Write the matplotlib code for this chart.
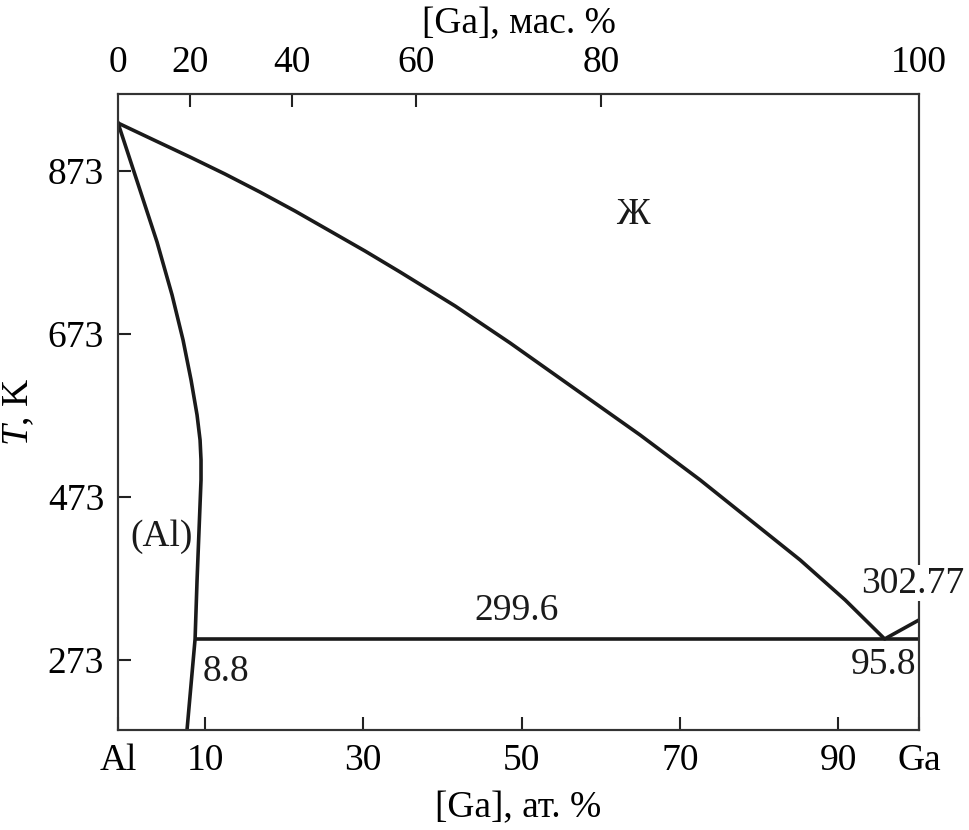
import matplotlib.pyplot as plt

plt.rcParams['font.family'] = ['Liberation Serif', 'DejaVu Serif']
plt.rcParams['mathtext.fontset'] = 'custom'
plt.rcParams['mathtext.it'] = 'Liberation Serif:italic'
plt.rcParams['mathtext.rm'] = 'Liberation Serif'

# состав, ат. % Ga  /  температура, K
liq_x = [-1.0, 3.55, 8.10, 12.53, 16.95, 21.38, 25.80, 30.23, 34.65, 41.61, 48.56,
         56.78, 64.99, 72.58, 78.90, 85.22, 90.91, 95.9, 100.24]
liq_T = [931.9, 911.0, 890.2, 869.3, 847.2, 823.9, 799.4, 774.8, 749.1, 707.4, 662.0,
         605.5, 549.1, 493.9, 444.8, 395.7, 346.6, 298.8, 322.1]

solv_x = [-1.0, 1.53, 3.93, 5.83, 7.22, 8.23, 8.99, 9.37, 9.49, 9.49, 9.24, 8.99, 8.74, 7.72]
solv_T = [931.9, 857.0, 785.9, 720.9, 665.6, 616.6, 573.6, 542.9, 518.4, 493.9, 432.5,
          371.2, 298.8, 187.1]

eut_x = [8.9, 100.24]
eut_T = [298.8, 298.8]

x_lim = (-1.0, 100.24)
T_lim = (187.1, 967.5)

bottom_ticks = [x_lim[0], 10, 30, 50, 70, 90, x_lim[1]]
bottom_labels = ['Al', '10', '30', '50', '70', '90', 'Ga']
top_ticks = [x_lim[0], 8.10, 21.0, 36.68, 60.06, x_lim[1]]
top_labels = ['0', '20', '40', '60', '80', '100']
T_ticks = [273, 473, 673, 873]

notes = [
    ('Ж', 64.1, 819),
    ('(Al)', 4.44, 424),
    ('8.8', 12.65, 258),
    ('299.6', 49.4, 334),
    ('302.77', 99.4, 367),
    ('95.8', 95.7, 267),
]

fs = 27
ink = '#1a1a1a'
fig = plt.figure(figsize=(9.69, 8.30), dpi=100)
ax = fig.add_axes([0.1218, 0.1205, 0.8266, 0.7662])

ax.plot(liq_x, liq_T, color=ink, lw=2.6, solid_joinstyle='round')
ax.plot(solv_x, solv_T, color=ink, lw=2.6, solid_joinstyle='round')
ax.plot(eut_x, eut_T, color=ink, lw=2.6)

ax.set_xlim(*x_lim)
ax.set_ylim(*T_lim)
ax.set_xticks(bottom_ticks)
ax.set_xticklabels(bottom_labels)
ax.set_yticks(T_ticks)
ax.tick_params(direction='in', length=9.5, width=1.5, labelsize=fs, pad=10, color='#222222')
for t in ax.xaxis.get_major_ticks()[::len(bottom_ticks) - 1]:
    t.tick1line.set_visible(False)

ax2 = ax.twiny()
ax2.set_xlim(*x_lim)
ax2.set_xticks(top_ticks)
ax2.set_xticklabels(top_labels)
ax2.tick_params(direction='in', length=9.5, width=1.5, labelsize=fs, pad=10, color='#222222')
for t in ax2.xaxis.get_major_ticks()[::len(top_ticks) - 1]:
    t.tick2line.set_visible(False)

for a in (ax, ax2):
    for s in a.spines.values():
        s.set_linewidth(1.5)
        s.set_color('#333333')

ax.set_xlabel('[Ga], ат. %', fontsize=fs, labelpad=9)
ax2.set_xlabel('[Ga], мас. %', fontsize=fs, labelpad=9)
ax.set_ylabel('$T$, K', fontsize=fs, labelpad=8)

for txt, x, y in notes:
    ax2.text(x, y, txt, fontsize=fs, ha='center', va='center', color=ink,
             transform=ax.transData, clip_on=False, zorder=5,
             bbox=dict(facecolor='white', edgecolor='none', pad=0.5) if txt == '302.77' else None)

fig.savefig('out.png', dpi=100)
